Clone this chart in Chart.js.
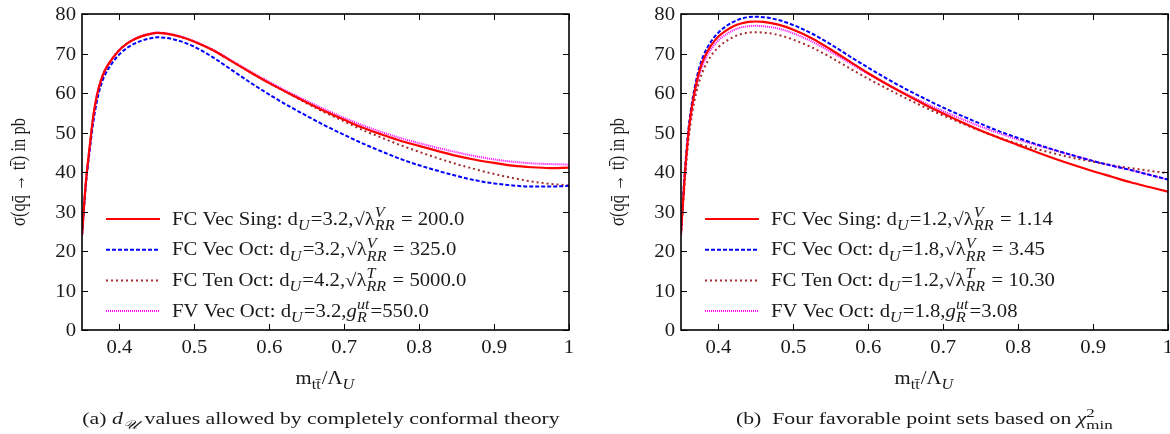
<!DOCTYPE html>
<html>
<head>
<meta charset="utf-8">
<script src="https://cdn.jsdelivr.net/npm/chart.js@4.4.1/dist/chart.umd.min.js"></script>
<style>
  html, body { margin: 0; padding: 0; background: #fff; overflow: hidden; }
  #wrap { position: relative; width: 1170px; height: 434px; }
  canvas { position: absolute; top: 0; }
  #cA { left: 0; }
  #cB { left: 585px; }
</style>
</head>
<body>
<div id="wrap">
  <canvas id="cA" width="585" height="434"></canvas>
  <canvas id="cB" width="585" height="434"></canvas>
</div>
<script>
// m_tt / Lambda_U sample points shared by every curve
const xs = [0.35, 0.355, 0.36, 0.365, 0.37, 0.375, 0.38, 0.39, 0.40, 0.41, 0.42, 0.43, 0.44, 0.45, 0.46, 0.48, 0.50,
            0.525, 0.55, 0.575, 0.60, 0.625, 0.65, 0.675, 0.70, 0.725, 0.75, 0.775, 0.80, 0.825, 0.85, 0.875, 0.90,
            0.925, 0.95, 0.975, 1.0];

// panel (a): cross sections in pb
const vecSingA = [24, 37, 46, 54, 59.5, 63, 65.5, 68.6, 70.9, 72.5, 73.6, 74.4, 74.9, 75.2, 75.1, 74.3, 73.0,
                  70.8, 68.0, 65.2, 62.5, 60.0, 57.6, 55.3, 53.2, 51.2, 49.5, 47.9, 46.6, 45.3, 44.1, 43.1, 42.3,
                  41.6, 41.2, 41.0, 41.1];
const vecOctA  = [24, 36.5, 45, 52.5, 58, 61.8, 64.3, 67.5, 69.8, 71.4, 72.5, 73.3, 73.8, 74.1, 74.0, 73.2, 71.7,
                  69.0, 65.8, 62.6, 59.6, 56.8, 54.2, 51.7, 49.4, 47.2, 45.2, 43.3, 41.7, 40.3, 39.0, 37.9, 37.1,
                  36.6, 36.3, 36.3, 36.5];
const tenOctA  = [24, 37, 46, 54, 59.5, 63, 65.5, 68.6, 70.9, 72.5, 73.6, 74.4, 74.9, 75.2, 75.1, 74.3, 73.0,
                  70.8, 68.0, 65.2, 62.5, 60.0, 57.4, 55.0, 52.8, 50.6, 48.7, 46.8, 45.1, 43.5, 42.0, 40.7, 39.5,
                  38.5, 37.6, 37.0, 36.6];
const fvOctA   = [24, 37, 46, 54, 59.5, 63, 65.5, 68.6, 70.9, 72.5, 73.7, 74.5, 75.0, 75.3, 75.2, 74.4, 73.1,
                  70.9, 68.2, 65.4, 62.8, 60.3, 58.0, 55.8, 53.7, 51.8, 50.1, 48.6, 47.3, 46.1, 45.0, 44.0, 43.2,
                  42.6, 42.2, 42.0, 41.9];

// panel (b)
const vecSingB = [24.5, 39, 50, 57, 62, 65.8, 68.5, 72, 74.3, 75.8, 76.9, 77.6, 78.0, 78.1, 78.0, 77.3, 76.0,
                  73.8, 71.0, 68.0, 65.0, 62.2, 59.6, 57.1, 54.8, 52.6, 50.5, 48.6, 46.8, 45.0, 43.3, 41.7, 40.2,
                  38.8, 37.4, 36.2, 35.0];
const vecOctB  = [25, 40, 51, 58, 63, 66.8, 69.5, 73, 75.3, 76.9, 78.0, 78.8, 79.2, 79.3, 79.2, 78.5, 77.2,
                  75.0, 72.3, 69.3, 66.4, 63.6, 61.0, 58.6, 56.3, 54.2, 52.2, 50.3, 48.6, 47.0, 45.5, 44.1, 42.8,
                  41.6, 40.5, 39.3, 38.1];
const tenOctB  = [24, 37.5, 48, 55, 59.8, 63.3, 65.9, 69.4, 71.6, 73.1, 74.2, 74.9, 75.3, 75.4, 75.3, 74.7, 73.5,
                  71.5, 69.0, 66.3, 63.6, 61.1, 58.7, 56.4, 54.3, 52.3, 50.4, 48.7, 47.1, 45.8, 44.6, 43.5, 42.6,
                  41.7, 41.0, 40.3, 39.7];
const fvOctB   = [24.5, 38.5, 49.5, 56.5, 61.3, 65, 67.6, 71, 73.3, 74.8, 75.9, 76.6, 76.9, 77.0, 76.9, 76.3, 75.1,
                  73.0, 70.4, 67.6, 64.8, 62.2, 59.8, 57.5, 55.4, 53.4, 51.5, 49.8, 48.2, 46.8, 45.4, 44.1, 42.8,
                  41.6, 40.5, 39.3, 38.1];

const xTicks = [0.4, 0.5, 0.6, 0.7, 0.8, 0.9, 1];
const xTickLabels = ['0.4', '0.5', '0.6', '0.7', '0.8', '0.9', '1'];
const yTicks = [0, 10, 20, 30, 40, 50, 60, 70, 80];
const yTickLabels = ['0', '10', '20', '30', '40', '50', '60', '70', '80'];

// _{..} italic subscript, ^{..} italic superscript, _(..) upright subscript, $..$ italic
const legendA = [
  'FC Vec Sing: d_{U}=3.2,√λ^{V}_{RR} = 200.0',
  'FC Vec Oct: d_{U}=3.2,√λ^{V}_{RR} = 325.0',
  'FC Ten Oct: d_{U}=4.2,√λ^{T}_{RR} = 5000.0',
  'FV Vec Oct: d_{U}=3.2,$g$^{ut}_{R}=550.0',
];
const legendB = [
  'FC Vec Sing: d_{U}=1.2,√λ^{V}_{RR} = 1.14',
  'FC Vec Oct: d_{U}=1.8,√λ^{V}_{RR} = 3.45',
  'FC Ten Oct: d_{U}=1.2,√λ^{T}_{RR} = 10.30',
  'FV Vec Oct: d_{U}=1.8,$g$^{ut}_{R}=3.08',
];
const yTitle = 'σ(qq\u0304 → tt\u0304) in pb';
const xTitle = 'm_(tt\u0304)/Λ_{U}';
const captionA = '(a) $d$_{𝒰} values allowed by completely conformal theory';
const captionB = '(b)  Four favorable point sets based on $χ$^(2)_(min)';

const looks = [
  { color: '#ff0000', dash: [],     width: 2.2 },
  { color: '#0000ff', dash: [4, 2], width: 2 },
  { color: '#a52a2a', dash: [2, 3], width: 2 },
  { color: '#ff00ff', dash: [1, 1], width: 2 },
];

const FONT = '"Liberation Serif", "DejaVu Serif", serif';
const SX = 1.15;          // lettering is set slightly wide
const INK = '#1a1a1a';

function fontStr(size, italic) {
  return (italic ? 'italic ' : '') + size.toFixed(2) + 'px ' + FONT;
}

function parseRich(s) {
  const runs = [];
  let buf = '', i = 0;
  const flush = () => { if (buf) { runs.push({ t: buf }); buf = ''; } };
  while (i < s.length) {
    const c = s[i];
    if (c === '$') {
      flush();
      const j = s.indexOf('$', i + 1);
      runs.push({ t: s.slice(i + 1, j), it: true });
      i = j + 1;
    } else if ((c === '_' || c === '^') && (s[i + 1] === '{' || s[i + 1] === '(')) {
      flush();
      const it = s[i + 1] === '{';
      const j = s.indexOf(it ? '}' : ')', i + 2);
      const txt = s.slice(i + 2, j);
      const last = runs[runs.length - 1];
      // a subscript right after a superscript stacks under it
      if (c === '_' && last && last.sup !== undefined && last.sub === undefined) last.sub = txt;
      else runs.push(c === '_' ? { sub: txt, it } : { sup: txt, it });
      i = j + 1;
    } else {
      buf += c;
      i++;
    }
  }
  flush();
  return runs;
}

function drawRich(ctx, str, x, y, size, align, stretch = SX, rotated = false) {
  const runs = parseRich(str);
  const small = size * 0.78;
  const parts = runs.map(r => {
    if (r.t !== undefined) {
      ctx.font = fontStr(size, r.it);
      return { r, w: ctx.measureText(r.t).width };
    }
    ctx.font = fontStr(small, r.it);
    const w = Math.max(r.sup ? ctx.measureText(r.sup).width : 0, r.sub ? ctx.measureText(r.sub).width : 0);
    return { r, w: w + 1 };
  });
  const total = parts.reduce((s, p) => s + p.w, 0);
  ctx.save();
  ctx.translate(x, y);
  if (rotated) { ctx.rotate(-Math.PI / 2); ctx.scale(1, stretch); }
  else ctx.scale(stretch, 1);
  ctx.fillStyle = INK;
  ctx.textAlign = 'left';
  ctx.textBaseline = 'alphabetic';
  let cx = align === 'center' ? -total / 2 : align === 'right' ? -total : 0;
  for (const p of parts) {
    const r = p.r;
    if (r.t !== undefined) {
      ctx.font = fontStr(size, r.it);
      ctx.fillText(r.t, cx, 0);
    } else {
      ctx.font = fontStr(small, r.it);
      if (r.sup) ctx.fillText(r.sup, cx, -size * 0.42);
      if (r.sub) ctx.fillText(r.sub, cx, size * 0.3);
    }
    cx += p.w;
  }
  ctx.restore();
}

// frame with inward ticks on all four sides, tick labels, titles, key and caption
const decor = {
  id: 'decor',
  afterDraw(chart, args, opts) {
    const { ctx, chartArea: a, scales: { x, y } } = chart;
    const fs = 18;
    ctx.save();
    ctx.strokeStyle = '#000';
    ctx.lineWidth = 1;
    ctx.beginPath();
    x.ticks.forEach(t => {
      const px = Math.round(x.getPixelForValue(t.value)) + 0.5;
      ctx.moveTo(px, a.bottom); ctx.lineTo(px, a.bottom - 6);
      ctx.moveTo(px, a.top);    ctx.lineTo(px, a.top + 6);
    });
    y.ticks.forEach(t => {
      const py = Math.round(y.getPixelForValue(t.value)) + 0.5;
      ctx.moveTo(a.left, py);  ctx.lineTo(a.left + 6, py);
      ctx.moveTo(a.right, py); ctx.lineTo(a.right - 6, py);
    });
    ctx.stroke();
    ctx.lineWidth = 1.6;
    ctx.strokeRect(a.left, a.top, a.right - a.left, a.bottom - a.top);
    ctx.restore();

    x.ticks.forEach((t, i) => drawRich(ctx, xTickLabels[i], x.getPixelForValue(t.value), a.bottom + 23, fs, 'center'));
    y.ticks.forEach((t, i) => drawRich(ctx, yTickLabels[i], a.left - 6, y.getPixelForValue(t.value) + 6, fs, 'right'));

    drawRich(ctx, yTitle, a.left - 57, (a.top + a.bottom) / 2, 16.5, 'center', 1.25, true);
    drawRich(ctx, xTitle, (a.left + a.right) / 2, a.bottom + 54, fs, 'center');

    // key in the lower left corner
    opts.legend.forEach((label, k) => {
      const ly = a.bottom - 111 + k * 30.7;
      const lk = looks[k];
      ctx.save();
      ctx.globalAlpha = 1;
      ctx.strokeStyle = lk.color;
      ctx.lineWidth = lk.width;
      ctx.lineCap = 'butt';
      ctx.setLineDash(lk.dash);
      ctx.lineDashOffset = 0;
      ctx.beginPath();
      ctx.moveTo(a.left + 24, ly);
      ctx.lineTo(a.left + 78, ly);
      ctx.stroke();
      ctx.restore();
      drawRich(ctx, label, a.left + 90, ly + 5.5, fs, 'left');
    });

    drawRich(ctx, opts.caption, opts.captionX, 424, 16, 'center', 1.36);
  }
};

function makePanel(id, series, legend, caption, captionX, padLeft, padRight) {
  return new Chart(document.getElementById(id), {
    type: 'line',
    data: {
      datasets: series.map((ys, k) => ({
        label: legend[k],
        data: xs.map((xv, i) => ({ x: xv, y: ys[i] })),
        borderColor: looks[k].color,
        borderDash: looks[k].dash,
        borderWidth: looks[k].width,
        pointRadius: 0,
        fill: false,
        cubicInterpolationMode: 'monotone',
      })),
    },
    options: {
      responsive: false,
      animation: false,
      layout: { padding: { left: padLeft, right: padRight, top: 14, bottom: 0 } },
      plugins: {
        legend: { display: false },
        tooltip: { enabled: false },
        decor: { legend, caption, captionX },
      },
      scales: {
        x: {
          type: 'linear', min: 0.35, max: 1,
          grid: { display: false }, border: { display: false }, ticks: { display: false },
          afterBuildTicks: s => { s.ticks = xTicks.map(v => ({ value: v })); },
          afterFit: s => { s.height = 104; },
        },
        y: {
          min: 0, max: 80,
          grid: { display: false }, border: { display: false }, ticks: { display: false },
          afterBuildTicks: s => { s.ticks = yTicks.map(v => ({ value: v })); },
          afterFit: s => { s.width = 82; },
        },
      },
    },
    plugins: [decor],
  });
}

makePanel('cA', [vecSingA, vecOctA, tenOctA, fvOctA], legendA, captionA, 321, 0, 16);
makePanel('cB', [vecSingB, vecOctB, tenOctB, fvOctB], legendB, captionB, 340, 14, 2);
</script>
</body>
</html>
